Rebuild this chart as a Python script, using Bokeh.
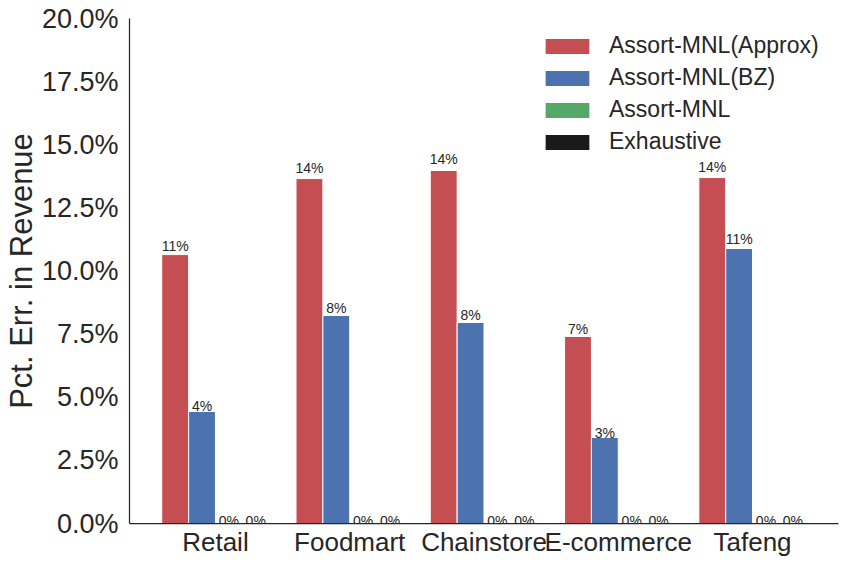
from bokeh.plotting import figure
from bokeh.models import Range1d, FixedTicker, NumeralTickFormatter, ColumnDataSource, Legend, LegendItem
from bokeh.embed import file_html
from bokeh.resources import INLINE
from bokeh.core.properties import value

categories = ["Retail", "Foodmart", "Chainstore", "E-commerce", "Tafeng"]
series_names = ["Assort-MNL(Approx)", "Assort-MNL(BZ)", "Assort-MNL", "Exhaustive"]
approx = [0.1065, 0.1366, 0.1398, 0.0741, 0.1370]
bz = [0.0444, 0.0824, 0.0796, 0.0341, 0.1089]
mnl = [0.0, 0.0, 0.0, 0.0, 0.0]
exhaustive = [0.0, 0.0, 0.0, 0.0, 0.0]
y_ticks = [0.0, 0.025, 0.05, 0.075, 0.10, 0.125, 0.15, 0.175, 0.20]

series = [approx, bz, mnl, exhaustive]
colors = ["#C44E52", "#4C72B0", "#55A868", "#1A1A1A"]
offsets = [-0.3, -0.1, 0.1, 0.3]
bar_w = 0.2
FONT = "Liberation Sans"
TXT = "#262626"

p = figure(output_backend="svg", toolbar_location=None,
           frame_width=709, frame_height=505,
           min_border_left=129, min_border_right=14, min_border_top=18, min_border_bottom=41,
           x_range=Range1d(-0.64, 4.64), y_range=Range1d(0, 0.20))

items = []
for vals, col, off, name in zip(series, colors, offsets, series_names):
    xs = [i + off for i in range(len(categories))]
    src = ColumnDataSource(dict(x=xs, top=vals,
                                ly=[v * 1.025 for v in vals],
                                lab=["{:.0f}%".format(v * 100) for v in vals]))
    r = p.vbar(x="x", top="top", width=bar_w, bottom=0, source=src,
               fill_color=col, line_color="white", line_width=1)
    p.text(x="x", y="ly", text="lab", source=src, text_align="center",
           text_baseline="alphabetic", y_offset=-2.3,
           text_font=value(FONT), text_font_size="14px", text_color=TXT)
    items.append(LegendItem(label=name, renderers=[r]))

legend = Legend(items=items, location=(410, 368), padding=0, margin=0,
                border_line_alpha=0, background_fill_alpha=0,
                glyph_width=56, glyph_height=20, label_standoff=14, spacing=5,
                label_text_font=FONT, label_text_font_size="23px", label_text_color=TXT)
p.add_layout(legend)

p.xaxis.ticker = FixedTicker(ticks=list(range(len(categories))))
p.xaxis.major_label_overrides = {i: c for i, c in enumerate(categories)}
p.yaxis.ticker = FixedTicker(ticks=y_ticks)
p.yaxis.formatter = NumeralTickFormatter(format="0.0%")
p.yaxis.axis_label = "Pct. Err. in Revenue"

for ax in [p.xaxis[0], p.yaxis[0]]:
    ax.axis_line_color = TXT
    ax.axis_line_width = 1.25
    ax.major_tick_line_color = None
    ax.minor_tick_line_color = None
    ax.major_tick_out = 0
    ax.major_tick_in = 0
    ax.minor_tick_out = 0
    ax.minor_tick_in = 0
    ax.major_label_text_font = FONT
    ax.major_label_text_font_size = "26px"
    ax.major_label_text_color = TXT
p.yaxis.major_label_text_font_size = "27px"
p.xaxis.major_label_standoff = 3
p.yaxis.major_label_standoff = 11
p.yaxis.axis_label_text_font = FONT
p.yaxis.axis_label_text_font_size = "31px"
p.yaxis.axis_label_text_font_style = "normal"
p.yaxis.axis_label_text_color = TXT
p.yaxis.axis_label_standoff = 0

p.xgrid.visible = False
p.ygrid.visible = False
p.outline_line_color = None
p.background_fill_color = "white"
p.border_fill_color = "white"

open("out.html", "w").write(file_html(p, INLINE))
